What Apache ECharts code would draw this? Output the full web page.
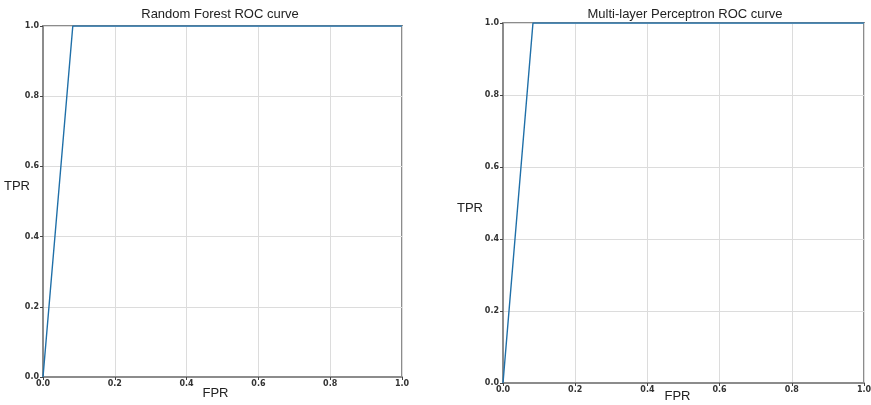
<!DOCTYPE html>
<html>
<head>
<meta charset="utf-8">
<script src="https://cdn.jsdelivr.net/npm/echarts@6/dist/echarts.min.js"></script>
<style>
  html, body { margin: 0; padding: 0; background: #fff; }
  #chart { width: 871px; height: 405px; }
</style>
</head>
<body>
<div id="chart"></div>
<script>
// ROC points
const rfFpr = [0, 0.083, 1]
const rfTpr = [0, 1, 1]
const mlpFpr = [0, 0.083, 1]
const mlpTpr = [0, 1, 1]
const titles = ["Random Forest ROC curve", "Multi-layer Perceptron ROC curve"]

const font = "'Liberation Sans', Arial, sans-serif"
const tickFont = "'DejaVu Sans', sans-serif"

const toPairs = (xs, ys) => xs.map((x, i) => [x, ys[i]])

const makeAxis = (idx, isX, name, gap, nameStyle) => ({
  type: "value",
  gridIndex: idx,
  min: 0,
  max: 1,
  interval: 0.2,
  name: name,
  nameLocation: "middle",
  nameGap: gap,
  nameRotate: 0,
  nameMoveOverlap: false,
  nameTextStyle: Object.assign({ fontFamily: font, fontSize: 13, color: "#222" }, nameStyle),
  axisLine: { show: true, lineStyle: { color: "#8c8c8c", width: 2 } },
  axisTick: { show: true, length: 3, lineStyle: { color: "#444", width: 1 } },
  axisLabel: {
    fontFamily: tickFont, fontSize: 8, fontWeight: "bold", color: "#333",
    margin: isX ? 3 : 4,
    formatter: (v) => v.toFixed(1)
  },
  splitLine: { show: true, lineStyle: { color: "#dcdcdc", width: 1 } }
})

const chart = echarts.init(document.getElementById("chart"))

chart.setOption({
  animation: false,
  title: [
    { text: titles[0], left: 215, top: 3, textAlign: "center",
      textStyle: { fontFamily: font, fontSize: 13, fontWeight: "normal", color: "#222" } },
    { text: titles[1], left: 680, top: 3, textAlign: "center",
      textStyle: { fontFamily: font, fontSize: 13, fontWeight: "normal", color: "#222" } }
  ],
  grid: [
    { left: 43, right: 469, top: 26, bottom: 28, outerBoundsMode: "none", containLabel: false,
      show: true, borderColor: "#8c8c8c", borderWidth: 2 },
    { left: 503, right: 7, top: 23, bottom: 22, outerBoundsMode: "none", containLabel: false,
      show: true, borderColor: "#8c8c8c", borderWidth: 2 }
  ],
  xAxis: [
    makeAxis(0, true, "FPR", 10, { padding: [0, 14, 0, 0] }),
    makeAxis(1, true, "FPR", 7, { padding: [0, 12, 0, 0] })
  ],
  yAxis: [
    makeAxis(0, false, "TPR", 13, { verticalAlign: "bottom", lineHeight: 30 }),
    makeAxis(1, false, "TPR", 20, { verticalAlign: "top", lineHeight: 10 })
  ],
  series: [
    {
      type: "line", xAxisIndex: 0, yAxisIndex: 0,
      data: toPairs(rfFpr, rfTpr), showSymbol: false,
      lineStyle: { color: "#1f6fa8", width: 1.4 }
    },
    {
      type: "line", xAxisIndex: 1, yAxisIndex: 1,
      data: toPairs(mlpFpr, mlpTpr), showSymbol: false,
      lineStyle: { color: "#1f6fa8", width: 1.4 }
    }
  ]
})
</script>
</body>
</html>
